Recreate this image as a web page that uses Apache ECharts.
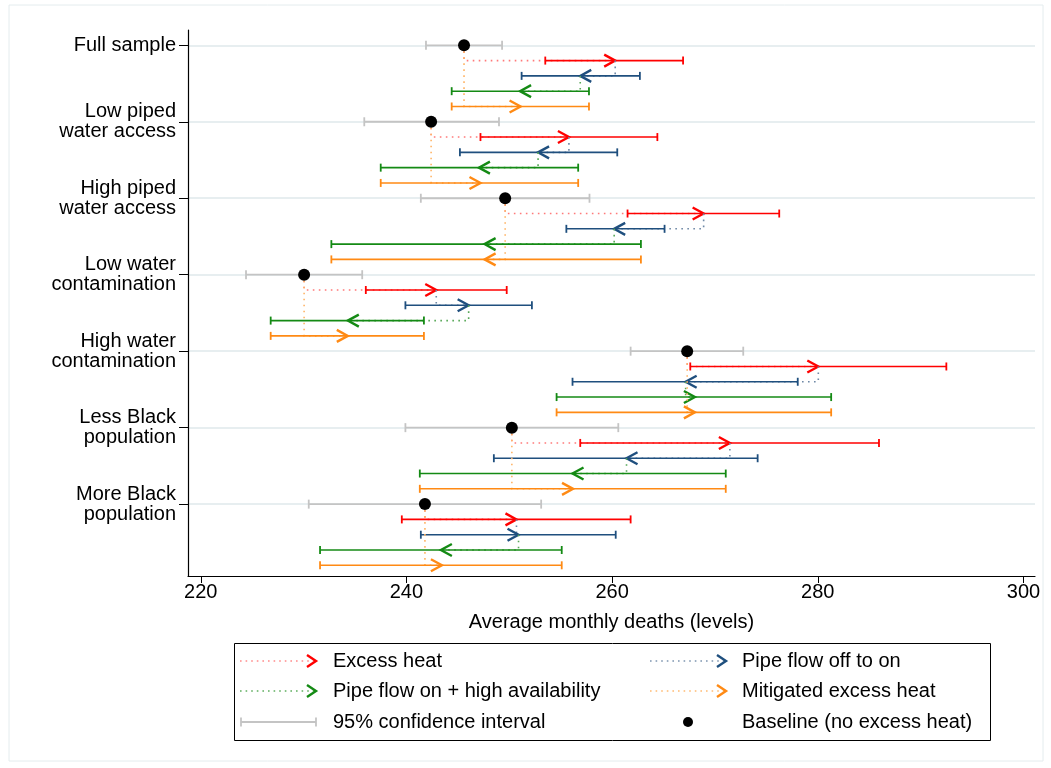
<!DOCTYPE html>
<html>
<head>
<meta charset="utf-8">
<script src="https://cdn.jsdelivr.net/npm/echarts@6/dist/echarts.min.js"></script>
<style>
  html, body { margin: 0; padding: 0; background: #fff; }
  #chart { width: 1051px; height: 768px; }
</style>
</head>
<body>
<div id="chart"></div>
<script>
// subgroups (one baseline row + four arrow rows each)
var groups = ['Full sample', 'Low piped\nwater access', 'High piped\nwater access', 'Low water\ncontamination',
  'High water\ncontamination', 'Less Black\npopulation', 'More Black\npopulation'];
var xTicks = [220, 240, 260, 280, 300];

// baseline (no excess heat) and its 95% CI
var baseline = [245.6, 242.4, 249.6, 230.05, 267.3, 250.25, 241.8];
var baseLo = [241.9, 235.9, 241.4, 224.4, 261.8, 239.9, 230.5];
var baseHi = [249.3, 249.0, 257.8, 235.7, 272.75, 260.6, 253.1];

// excess heat
var heat = [260.3, 255.8, 268.9, 242.9, 280.05, 271.45, 250.7];
var heatLo = [253.5, 247.2, 261.5, 236.05, 267.6, 256.9, 239.55];
var heatHi = [266.9, 264.4, 276.25, 249.75, 292.5, 285.95, 261.8];

// pipe flow off to on
var pipe = [256.9, 252.8, 260.2, 246.05, 267.15, 261.4, 250.9];
var pipeLo = [251.2, 245.2, 255.55, 239.9, 256.15, 248.5, 241.4];
var pipeHi = [262.7, 260.5, 265.1, 252.2, 278.05, 274.15, 260.35];

// pipe flow on + high availability
var avail = [251.05, 247.05, 247.6, 234.3, 268.05, 256.15, 243.35];
var availLo = [244.4, 237.5, 232.7, 226.8, 254.6, 241.3, 231.6];
var availHi = [257.75, 256.7, 262.8, 241.7, 281.3, 271.05, 255.1];

// mitigated excess heat
var mitig = [251.1, 247.2, 247.6, 234.3, 268.05, 256.2, 243.45];
var mitigLo = [244.4, 237.5, 232.7, 226.8, 254.6, 241.3, 231.6];
var mitigHi = [257.75, 256.7, 262.8, 241.7, 281.3, 271.05, 255.1];

var RED = '#ff0000', BLUE = '#1f4f7e', GREEN = '#148a14', ORANGE = '#ff8a14', GRAY = '#c4c4c4';
var FONT = 'Liberation Sans, Arial, sans-serif';
var FS = 20;

var chart = echarts.init(document.getElementById('chart'));

// rows: [row, start, estimate, lo, hi, fromRow]
function arrowRows(k, start, est, lo, hi, fromK) {
  return groups.map(function (g, i) {
    return [i * 5 + k, start[i], est[i], lo[i], hi[i], i * 5 + fromK];
  });
}

function arrowRender(color, dotColor) {
  return function (params, api) {
    var row = api.value(0), s = api.value(1), e = api.value(2);
    var pF = api.coord([s, api.value(5)]);
    var pS = api.coord([s, row]);
    var pE = api.coord([e, row]);
    var pL = api.coord([api.value(3), row]);
    var pH = api.coord([api.value(4), row]);
    var dir = e >= s ? 1 : -1;
    var cap = 4;
    return {
      type: 'group',
      children: [
        { type: 'polyline', shape: { points: [pF, pS, pE] },
          style: { stroke: dotColor, lineWidth: 1.6, lineDash: [1.6, 4.4], fill: null } },
        { type: 'line', shape: { x1: pL[0], y1: pL[1], x2: pH[0], y2: pH[1] },
          style: { stroke: color, lineWidth: 1.6 } },
        { type: 'line', shape: { x1: pL[0], y1: pL[1] - cap, x2: pL[0], y2: pL[1] + cap },
          style: { stroke: color, lineWidth: 1.8 } },
        { type: 'line', shape: { x1: pH[0], y1: pH[1] - cap, x2: pH[0], y2: pH[1] + cap },
          style: { stroke: color, lineWidth: 1.8 } },
        { type: 'polyline', shape: { points: [[pE[0] - dir * 11, pE[1] - 6], [pE[0], pE[1]], [pE[0] - dir * 11, pE[1] + 6]] },
          style: { stroke: color, lineWidth: 2.4, fill: null } }
      ]
    };
  };
}

function ciRender(params, api) {
  var row = api.value(0);
  var pL = api.coord([api.value(1), row]);
  var pH = api.coord([api.value(2), row]);
  var cap = 4.5;
  return {
    type: 'group',
    children: [
      { type: 'line', shape: { x1: pL[0], y1: pL[1], x2: pH[0], y2: pH[1] }, style: { stroke: GRAY, lineWidth: 1.8 } },
      { type: 'line', shape: { x1: pL[0], y1: pL[1] - cap, x2: pL[0], y2: pL[1] + cap }, style: { stroke: GRAY, lineWidth: 1.8 } },
      { type: 'line', shape: { x1: pH[0], y1: pH[1] - cap, x2: pH[0], y2: pH[1] + cap }, style: { stroke: GRAY, lineWidth: 1.8 } }
    ]
  };
}

var tickRows = groups.map(function (g, i) { return i * 5; });

// legend drawn by hand (dotted arrow symbols)
function legendArrow(x, y, dotColor, color) {
  return [
    { type: 'line', shape: { x1: x, y1: y, x2: x + 74, y2: y }, style: { stroke: dotColor, lineWidth: 1.6, lineDash: [1.6, 4] } },
    { type: 'polyline', shape: { points: [[x + 67, y - 6], [x + 76, y], [x + 67, y + 6]] }, style: { stroke: color, lineWidth: 2.4, fill: null } }
  ];
}
function legendText(x, y, text) {
  return { type: 'text', x: x, y: y, style: { text: text, font: FS + 'px ' + FONT, fill: '#000', verticalAlign: 'middle' } };
}

var legendItems = [
  { type: 'rect', shape: { x: 9, y: 5, width: 1034, height: 756 }, style: { stroke: '#e4ecee', fill: null, lineWidth: 1 } },
  { type: 'rect', shape: { x: 234.5, y: 643.5, width: 756, height: 97 }, style: { stroke: '#000', fill: '#fff', lineWidth: 1 } }
]
  .concat(legendArrow(240, 661, '#ff8a8a', RED))
  .concat(legendArrow(650, 661, '#7d95b0', BLUE))
  .concat(legendArrow(240, 691, '#5fae5f', GREEN))
  .concat(legendArrow(650, 691, '#ffbb73', ORANGE))
  .concat([
    { type: 'line', shape: { x1: 241, y1: 722, x2: 316, y2: 722 }, style: { stroke: GRAY, lineWidth: 1.8 } },
    { type: 'line', shape: { x1: 241, y1: 717.5, x2: 241, y2: 726.5 }, style: { stroke: GRAY, lineWidth: 1.8 } },
    { type: 'line', shape: { x1: 316, y1: 717.5, x2: 316, y2: 726.5 }, style: { stroke: GRAY, lineWidth: 1.8 } },
    { type: 'circle', shape: { cx: 688, cy: 722, r: 5 }, style: { fill: '#000' } },
    legendText(333, 661, 'Excess heat'),
    legendText(742, 661, 'Pipe flow off to on'),
    legendText(333, 691, 'Pipe flow on + high availability'),
    legendText(742, 691, 'Mitigated excess heat'),
    legendText(333, 722, '95% confidence interval'),
    legendText(742, 722, 'Baseline (no excess heat)')
  ]);

var option = {
  animation: false,
  backgroundColor: '#fff',
  textStyle: { fontFamily: FONT },
  grid: { left: 188, right: 16, top: 30, bottom: 192 },
  xAxis: {
    type: 'value',
    position: 'bottom',
    min: 218.76,
    max: 301.12,
    name: 'Average monthly deaths (levels)',
    nameLocation: 'middle',
    nameGap: 36,
    nameTextStyle: { fontSize: FS, color: '#000', fontFamily: FONT },
    axisLine: { show: true, onZero: false, lineStyle: { color: '#000', width: 1.2 } },
    axisTick: { show: true, length: 7, customValues: xTicks, lineStyle: { color: '#000' } },
    axisLabel: { customValues: xTicks, fontSize: FS, color: '#000', margin: 6, fontFamily: FONT },
    splitLine: { show: false }
  },
  yAxis: {
    type: 'value',
    inverse: true,
    min: -1,
    max: 34.7,
    axisLine: { show: true, onZero: false, lineStyle: { color: '#000', width: 1.2 } },
    axisTick: { show: true, length: 9, customValues: tickRows, lineStyle: { color: '#000' } },
    axisLabel: {
      customValues: tickRows,
      fontSize: FS, color: '#000', margin: 12, lineHeight: 20, fontFamily: FONT,
      formatter: function (v) { return groups[Math.round(v / 5)]; }
    },
    splitLine: { show: false }
  },
  series: [
    {
      name: '95% confidence interval',
      type: 'custom',
      renderItem: ciRender,
      encode: { x: [1, 2], y: 0 },
      data: groups.map(function (g, i) { return [i * 5, baseLo[i], baseHi[i]]; }),
      markLine: {
        silent: true, symbol: 'none', label: { show: false },
        lineStyle: { color: '#e7eef0', width: 2, type: 'solid' },
        data: tickRows.map(function (r) { return { yAxis: r }; }),
        z: 0
      },
      z: 2
    },
    { name: 'Excess heat', type: 'custom', renderItem: arrowRender(RED, '#ff7a7a'),
      encode: { x: [1, 2, 3, 4], y: [0, 5] }, data: arrowRows(1, baseline, heat, heatLo, heatHi, 0), z: 3 },
    { name: 'Pipe flow off to on', type: 'custom', renderItem: arrowRender(BLUE, '#6f89a6'),
      encode: { x: [1, 2, 3, 4], y: [0, 5] }, data: arrowRows(2, heat, pipe, pipeLo, pipeHi, 1), z: 3 },
    { name: 'Pipe flow on + high availability', type: 'custom', renderItem: arrowRender(GREEN, '#58a858'),
      encode: { x: [1, 2, 3, 4], y: [0, 5] }, data: arrowRows(3, pipe, avail, availLo, availHi, 2), z: 3 },
    { name: 'Mitigated excess heat', type: 'custom', renderItem: arrowRender(ORANGE, '#ffb466'),
      encode: { x: [1, 2, 3, 4], y: [0, 5] }, data: arrowRows(4, baseline, mitig, mitigLo, mitigHi, 0), z: 3 },
    {
      name: 'Baseline (no excess heat)',
      type: 'scatter',
      symbol: 'circle',
      symbolSize: 12,
      itemStyle: { color: '#000', opacity: 1 },
      data: groups.map(function (g, i) { return [baseline[i], i * 5]; }),
      z: 5
    }
  ],
  graphic: { elements: legendItems }
};

chart.setOption(option);
</script>
</body>
</html>
